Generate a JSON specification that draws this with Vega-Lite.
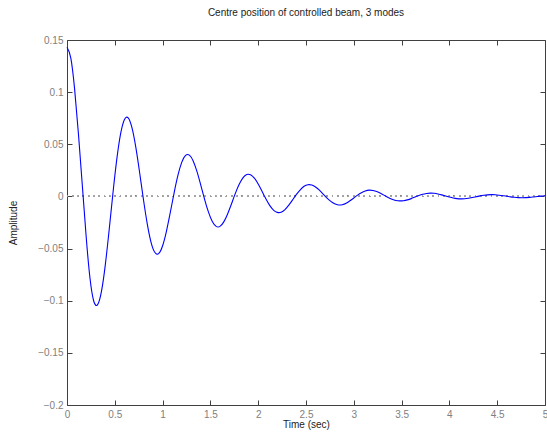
{
  "$schema": "https://vega.github.io/schema/vega-lite/v6.json",
  "width": 478,
  "height": 365,
  "autosize": {"type": "none"},
  "padding": {"left": 67, "top": 40, "right": 2, "bottom": 27},
  "background": "white",
  "title": {"text": "Centre position of controlled beam, 3 modes", "fontSize": 10, "fontWeight": "normal", "font": "Liberation Sans", "color": "#222222", "frame": "group", "anchor": "middle", "offset": 17},
  "config": {
    "view": {"stroke": null},
    "axis": {
      "grid": false,
      "domainColor": "#404040",
      "tickColor": "#404040",
      "tickSize": -5,
      "labelColor": "#808080",
      "labelFont": "Liberation Sans",
      "labelFontSize": 10,
      "titleFont": "Liberation Sans",
      "titleFontSize": 10,
      "titleFontWeight": "normal",
      "titleColor": "#222222",
      "labelFlush": false,
      "labelOverlap": false
    }
  },
  "data": {"values": [
    {"t":0,"y":0.143},{"t":0.04,"y":0.1327},{"t":0.08,"y":0.1027},{"t":0.12,"y":0.0596},{"t":0.16,"y":0.0109},
    {"t":0.2,"y":-0.038},{"t":0.24,"y":-0.078},{"t":0.28,"y":-0.1005},{"t":0.32,"y":-0.1038},{"t":0.36,"y":-0.0913},
    {"t":0.4,"y":-0.0661},{"t":0.44,"y":-0.0329},{"t":0.48,"y":0.0026},{"t":0.52,"y":0.035},{"t":0.56,"y":0.0597},
    {"t":0.6,"y":0.0736},{"t":0.64,"y":0.0753},{"t":0.68,"y":0.0657},{"t":0.72,"y":0.047},{"t":0.76,"y":0.0227},
    {"t":0.8,"y":-0.0032},{"t":0.84,"y":-0.0265},{"t":0.88,"y":-0.0442},{"t":0.92,"y":-0.0538},{"t":0.96,"y":-0.0547},
    {"t":1.0,"y":-0.0473},{"t":1.04,"y":-0.0334},{"t":1.08,"y":-0.0156},{"t":1.12,"y":0.0032},{"t":1.16,"y":0.0201},
    {"t":1.2,"y":0.0326},{"t":1.24,"y":0.0393},{"t":1.28,"y":0.0396},{"t":1.32,"y":0.034},{"t":1.36,"y":0.0237},
    {"t":1.4,"y":0.0106},{"t":1.44,"y":-0.003},{"t":1.48,"y":-0.0151},{"t":1.52,"y":-0.0241},{"t":1.56,"y":-0.0287},
    {"t":1.6,"y":-0.0287},{"t":1.64,"y":-0.0244},{"t":1.68,"y":-0.0168},{"t":1.72,"y":-0.0073},{"t":1.76,"y":0.0027},
    {"t":1.8,"y":0.0114},{"t":1.84,"y":0.0178},{"t":1.88,"y":0.021},{"t":1.92,"y":0.0208},{"t":1.96,"y":0.0175},
    {"t":2.0,"y":0.0119},{"t":2.04,"y":0.0049},{"t":2.08,"y":-0.0023},{"t":2.12,"y":-0.0086},{"t":2.16,"y":-0.0131},
    {"t":2.2,"y":-0.0153},{"t":2.24,"y":-0.0151},{"t":2.28,"y":-0.0126},{"t":2.32,"y":-0.0084},{"t":2.36,"y":-0.0033},
    {"t":2.4,"y":0.0019},{"t":2.44,"y":0.0064},{"t":2.48,"y":0.0097},{"t":2.52,"y":0.0112},{"t":2.56,"y":0.0109},
    {"t":2.6,"y":0.009},{"t":2.64,"y":0.006},{"t":2.68,"y":0.0022},{"t":2.72,"y":-0.0016},{"t":2.76,"y":-0.0048},
    {"t":2.8,"y":-0.0071},{"t":2.84,"y":-0.0082},{"t":2.88,"y":-0.0079},{"t":2.92,"y":-0.0065},{"t":2.96,"y":-0.0042},
    {"t":3.0,"y":-0.0015},{"t":3.04,"y":0.0013},{"t":3.08,"y":0.0036},{"t":3.12,"y":0.0052},{"t":3.16,"y":0.006},
    {"t":3.2,"y":0.0057},{"t":3.24,"y":0.0047},{"t":3.28,"y":0.003},{"t":3.32,"y":0.001},{"t":3.36,"y":-0.001},
    {"t":3.4,"y":-0.0027},{"t":3.44,"y":-0.0039},{"t":3.48,"y":-0.0043},{"t":3.52,"y":-0.0041},{"t":3.56,"y":-0.0033},
    {"t":3.6,"y":-0.0021},{"t":3.64,"y":-0.0006},{"t":3.68,"y":0.0008},{"t":3.72,"y":0.002},{"t":3.76,"y":0.0028},
    {"t":3.8,"y":0.0032},{"t":3.84,"y":0.003},{"t":3.88,"y":0.0024},{"t":3.92,"y":0.0015},{"t":3.96,"y":0.0004},
    {"t":4.0,"y":-0.0006},{"t":4.04,"y":-0.0015},{"t":4.08,"y":-0.0021},{"t":4.12,"y":-0.0023},{"t":4.16,"y":-0.0022},
    {"t":4.2,"y":-0.0017},{"t":4.24,"y":-0.001},{"t":4.28,"y":-0.0003},{"t":4.32,"y":0.0005},{"t":4.36,"y":0.0011},
    {"t":4.4,"y":0.0015},{"t":4.44,"y":0.0017},{"t":4.48,"y":0.0016},{"t":4.52,"y":0.0012},{"t":4.56,"y":0.0007},
    {"t":4.6,"y":0.0002},{"t":4.64,"y":-0.0004},{"t":4.68,"y":-0.0008},{"t":4.72,"y":-0.0011},{"t":4.76,"y":-0.0012},
    {"t":4.8,"y":-0.0011},{"t":4.84,"y":-0.0009},{"t":4.88,"y":-0.0005},{"t":4.92,"y":-0.0001},{"t":4.96,"y":0.0003},
    {"t":5.0,"y":0.0006}
  ]},
  "layer": [
    {
      "mark": {"type": "rule", "color": "#a0a0a0", "strokeDash": [1, 4.3], "strokeWidth": 1},
      "encoding": {"y": {"datum": 0, "type": "quantitative", "axis": null}}
    },
    {
      "mark": {"type": "line", "color": "#0000ff", "strokeWidth": 1.1, "interpolate": "natural"},
      "encoding": {
        "x": {"field": "t", "type": "quantitative", "scale": {"domain": [0, 5], "nice": false, "zero": false},
              "axis": {"orient": "bottom", "values": [0,0.5,1,1.5,2,2.5,3,3.5,4,4.5,5], "format": "~g", "title": "Time (sec)", "labelPadding": 9, "titlePadding": 0}},
        "y": {"field": "y", "type": "quantitative", "scale": {"domain": [-0.2, 0.15], "nice": false, "zero": false},
              "axis": {"orient": "left", "values": [-0.2,-0.15,-0.1,-0.05,0,0.05,0.1,0.15], "format": "~g", "title": "Amplitude", "labelPadding": 9, "titlePadding": 19}}
      }
    },
    {
      "mark": {"type": "line", "opacity": 0},
      "encoding": {
        "x": {"field": "t", "type": "quantitative", "axis": {"orient": "top", "values": [0,0.5,1,1.5,2,2.5,3,3.5,4,4.5,5], "labels": false, "title": null}},
        "y": {"field": "y", "type": "quantitative", "axis": {"orient": "right", "values": [-0.2,-0.15,-0.1,-0.05,0,0.05,0.1,0.15], "labels": false, "title": null}}
      }
    }
  ],
  "resolve": {"axis": {"x": "independent", "y": "independent"}}
}
